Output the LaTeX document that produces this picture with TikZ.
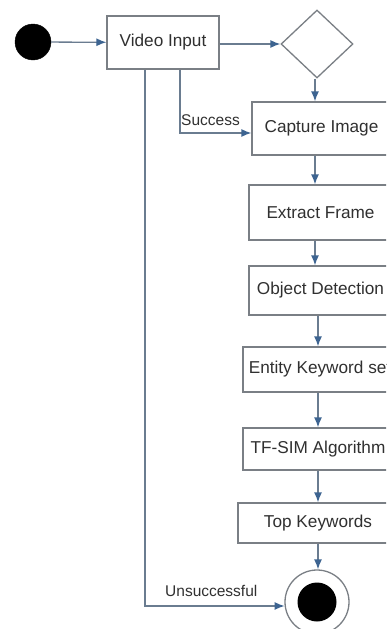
\documentclass[tikz,border=0pt]{standalone}
\usepackage{fontspec}
\setmainfont{Liberation Sans}
\usetikzlibrary{arrows.meta,shapes.geometric}
\definecolor{boxline}{HTML}{7A7F85}
\definecolor{flowline}{HTML}{6A7C90}
\definecolor{tipblue}{HTML}{3D6491}
\definecolor{txt}{HTML}{303030}
\tikzset{
  actbox/.style={draw=boxline, line width=1.3pt, fill=white, rectangle, inner sep=0pt,
    text=txt, font=\fontsize{17.2}{19}\selectfont},
  flow/.style={draw=flowline, line width=1.3pt,
    -{Latex[length=10pt,width=8pt,color=tipblue]}},
  lbl/.style={text=txt, font=\fontsize{15.5}{17}\selectfont, inner sep=0pt}
}
\begin{document}
\begin{tikzpicture}[x=1pt,y=-1pt]
\useasboundingbox (0,0) rectangle (386,629);
\clip (0,0) rectangle (386,629);
\fill[white] (0,0) rectangle (386,629);

% initial and final states
\node[circle, fill=black, draw=black, minimum size=36pt, inner sep=0pt] (start) at (33,42) {};
\node[circle, draw=boxline, line width=1.3pt, minimum size=64pt, inner sep=0pt] (final) at (317,602) {};
\fill[black] (final.center) circle (19.5pt);

% activities
\node[actbox, minimum width=112pt, minimum height=53pt] (video) at (163,42.5) {Video Input};
\node[diamond, draw=boxline, line width=1.3pt, inner sep=0pt, minimum width=72pt, minimum height=68pt] (dec) at (317,44) {};
\node[actbox, minimum width=139pt, minimum height=53pt] (capture) at (321.5,128.5) {Capture Image};
\node[actbox, minimum width=143pt, minimum height=55pt] (extract) at (320.5,212.5) {Extract Frame};
\node[actbox, minimum width=143pt, minimum height=49pt] (objdet) at (320.5,290.5) {Object Detection};
\node[actbox, minimum width=154pt, minimum height=45pt] (entity) at (320,369.5) {Entity Keyword set};
\node[actbox, minimum width=150pt, minimum height=42pt] (tfsim) at (318,449) {TF-SIM Algorithm};
\node[actbox, minimum width=160pt, minimum height=40pt] (topkw) at (318,523) {Top Keywords};

% vertical guide lines for the main column
\coordinate (colA) at (315,0);
\coordinate (colB) at (318,0);

% connectors
\draw[flow] (start) -- (video);
\draw[flow] (video.east |- dec.west) -- (dec.west);
\draw[flow] (dec.south -| colA) -- (capture.north -| colA);
\draw[flow] (capture.south -| colA) -- (extract.north -| colA);
\draw[flow] (extract.south -| colA) -- (objdet.north -| colA);
\draw[flow] (objdet.south -| colB) -- (entity.north -| colB);
\draw[flow] (entity.south -| colB) -- (tfsim.north -| colB);
\draw[flow] (tfsim.south -| colB) -- (topkw.north -| colB);
\draw[flow] (topkw.south -| colB) -- (final.north -| colB);

\coordinate (succ) at ([xshift=17pt]video.south);
\coordinate (fail) at ([xshift=-18pt]video.south);
\draw[flow] (succ) |- ([yshift=-4.5pt]capture.west);
\draw[flow] (fail) |- (final.187);

% guard labels
\node[lbl, anchor=south west] (lsucc) at (181,126) {Success};
\node[lbl, anchor=south west] (lfail) at (165,597) {Unsuccessful};
\end{tikzpicture}
\end{document}
